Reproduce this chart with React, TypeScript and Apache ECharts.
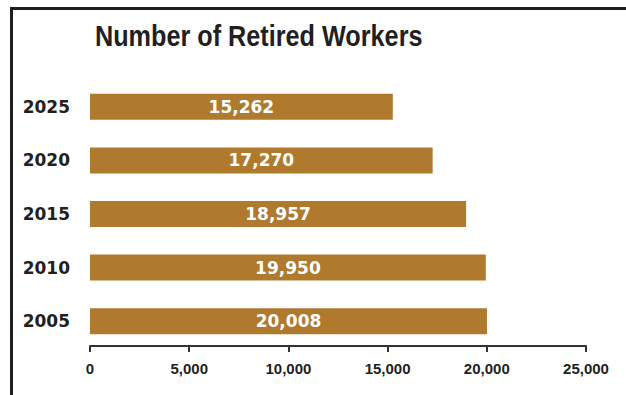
import React, { useEffect, useRef } from "react";
import * as echarts from "echarts";

const categories = ["2005", "2010", "2015", "2020", "2025"];
const retiredWorkers = [20008, 19950, 18957, 17270, 15262];
const xTicks = [0, 5000, 10000, 15000, 20000, 25000];
const titleText = "Number of Retired Workers";

const BAR = "#b07a2e";
const INK = "#231f20";

export default function App() {
  const ref = useRef<HTMLDivElement>(null);
  useEffect(() => {
    document.body.style.margin = "0";
    const chart = echarts.init(ref.current!, null, { renderer: "svg" });
    chart.setOption({
      animation: false,
      backgroundColor: "#ffffff",
      graphic: [
        { type: "line", shape: { x1: 10, y1: 8.5, x2: 626, y2: 8.5 }, style: { stroke: "#1e1e1e", lineWidth: 3 } },
        { type: "line", shape: { x1: 11.5, y1: 7, x2: 11.5, y2: 395 }, style: { stroke: "#1e1e1e", lineWidth: 3 } },
        {
          type: "text",
          x: 95,
          y: 35.5,
          scaleX: 0.87,
          style: {
            text: titleText,
            fontFamily: "'Liberation Sans', Arial, sans-serif",
            fontWeight: "bold",
            fontSize: 29,
            fill: INK,
            align: "left",
            verticalAlign: "middle",
          },
        },
      ],
      grid: { left: 90, top: 80, width: 496, height: 268 },
      xAxis: {
        type: "value",
        min: xTicks[0],
        max: xTicks[xTicks.length - 1],
        interval: xTicks[1] - xTicks[0],
        offset: -2,
        splitLine: { show: false },
        axisLine: { show: true, lineStyle: { color: "#333", width: 2 } },
        axisTick: { show: true, length: 6, lineStyle: { color: "#333", width: 2 } },
        axisLabel: {
          margin: 15,
          fontFamily: "'Liberation Sans', Arial, sans-serif",
          fontWeight: "bold",
          fontSize: 15,
          color: INK,
          formatter: (v: number) => v.toLocaleString("en-US"),
        },
      },
      yAxis: {
        type: "category",
        data: categories,
        axisLine: { show: false },
        axisTick: { show: false },
        axisLabel: {
          margin: 20,
          fontFamily: "'DejaVu Sans', sans-serif",
          fontWeight: "bold",
          fontSize: 17,
          color: INK,
        },
      },
      series: [
        {
          type: "bar",
          data: retiredWorkers,
          barWidth: 26,
          itemStyle: { color: BAR },
          label: {
            show: true,
            position: "inside",
            fontFamily: "'DejaVu Sans', sans-serif",
            fontWeight: "bold",
            fontSize: 17,
            color: "#ffffff",
            formatter: (p: any) => Number(p.value).toLocaleString("en-US"),
          },
        },
      ],
    });
    return () => chart.dispose();
  }, []);
  return <div ref={ref} style={{ width: 626, height: 395 }} />;
}
